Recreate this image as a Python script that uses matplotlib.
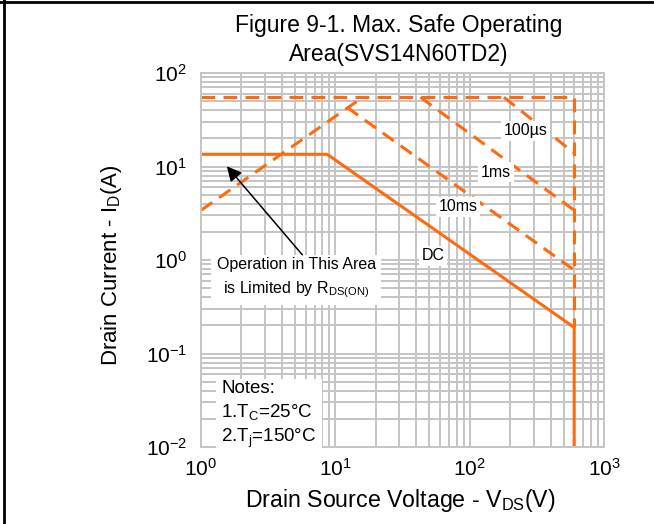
import numpy as np
import matplotlib
matplotlib.use('Agg')
import matplotlib.pyplot as plt
from matplotlib.lines import Line2D
from matplotlib.ticker import LogLocator

plt.rcParams['font.family'] = ['Liberation Sans', 'DejaVu Sans']
plt.rcParams['mathtext.fontset'] = 'custom'
plt.rcParams['mathtext.rm'] = 'Liberation Sans'
plt.rcParams['mathtext.it'] = 'Liberation Sans'
plt.rcParams['axes.unicode_minus'] = False

# SOA boundaries (V, A)
v_limit = [1, 600, 600]
i_limit = [55, 55, 0.19]
v_rds = [1, 16]
i_rds = [3.4, 55]
v_10ms = [12.2, 600]
i_10ms = [43, 0.78]
v_1ms = [43, 600]
i_1ms = [55, 3.4]
v_100us = [180, 600]
i_100us = [55, 13.9]
v_dc = [1, 8.7, 600, 600]
i_dc = [13.5, 13.5, 0.19, 0.01]

orange = '#ff6a0d'
grid_c = '#c4c4c4'

fig = plt.figure(figsize=(6.54, 5.24), dpi=100)
ax = fig.add_axes([201/654, 1-447/524, 403/654, 374/524])
ax.set_xscale('log')
ax.set_yscale('log')
ax.set_xlim(1, 1000)
ax.set_ylim(0.01, 100)

dash = dict(color=orange, lw=2.2, ls=(0, (4.5, 2.7)))
ax.plot(v_limit, i_limit, **dash)
ax.plot(v_rds, i_rds, **dash)
ax.plot(v_10ms, i_10ms, **dash)
ax.plot(v_1ms, i_1ms, **dash)
ax.plot(v_100us, i_100us, **dash)
ax.plot(v_dc, i_dc, color=orange, lw=2.2)

ax.xaxis.set_major_locator(LogLocator(base=10, numticks=10))
ax.yaxis.set_major_locator(LogLocator(base=10, numticks=10))
ax.xaxis.set_minor_locator(LogLocator(base=10, subs=np.arange(2, 10), numticks=20))
ax.yaxis.set_minor_locator(LogLocator(base=10, subs=np.arange(2, 10), numticks=20))
ax.grid(True, which='both', color=grid_c, lw=1.4)
ax.set_axisbelow(True)
ax.tick_params(which='both', length=0, labelsize=15)
ax.tick_params(axis='x', pad=8)
ax.tick_params(axis='y', pad=10)
ax.yaxis.set_minor_formatter(plt.NullFormatter())
ax.xaxis.set_minor_formatter(plt.NullFormatter())
for s in ax.spines.values():
    s.set_color(grid_c)
    s.set_linewidth(1.4)

box = dict(fc='white', ec='none', pad=2)
ax.text(0.806, 0.845, '100µs', transform=ax.transAxes, ha='center', va='center', fontsize=11.5, bbox=box)
ax.text(0.732, 0.735, '1ms', transform=ax.transAxes, ha='center', va='center', fontsize=11.5, bbox=box)
ax.text(0.638, 0.642, '10ms', transform=ax.transAxes, ha='center', va='center', fontsize=11.5, bbox=box)
ax.text(0.576, 0.511, 'DC', transform=ax.transAxes, ha='center', va='center', fontsize=11.5, bbox=box)
ax.text(0.236, 0.451, 'Operation in This Area\nis Limited by R$_\\mathrm{DS(ON)}$', transform=ax.transAxes,
        ha='center', va='center', fontsize=11.5, linespacing=1.5,
        bbox=dict(fc='white', ec='none', pad=4))
ax.text(0.05, 0.178, 'Notes:\n1.T$_\\mathrm{C}$=25°C\n2.T$_\\mathrm{j}$=150°C', transform=ax.transAxes,
        ha='left', va='top', fontsize=13.5, linespacing=1.3,
        bbox=dict(fc='white', ec='none', pad=4))

ax.annotate('', xy=(1.51, 10.6), xytext=(5.85, 1.08),
            arrowprops=dict(arrowstyle='-|>', color='black', lw=1.1, mutation_scale=22))

fig.text(399/654, 1-40/524, 'Figure 9-1. Max. Safe Operating\nArea(SVS14N60TD2)', ha='center', va='center',
         fontsize=16.5, linespacing=1.3)
fig.text(112/654, 1-265/524, 'Drain Current - I$_\\mathrm{D}$(A)', rotation=90, ha='center', va='center', fontsize=16)
fig.text(400/654, 1-500/524, 'Drain Source Voltage - V$_\\mathrm{DS}$(V)', ha='center', va='center', fontsize=16.7)

# frame lines at top and left
fig.add_artist(Line2D([0, 1], [1-2/524, 1-2/524], color='black', lw=2, transform=fig.transFigure))
fig.add_artist(Line2D([3.5/654, 3.5/654], [0, 1], color='black', lw=2, transform=fig.transFigure))

fig.savefig('out.png', dpi=100)
